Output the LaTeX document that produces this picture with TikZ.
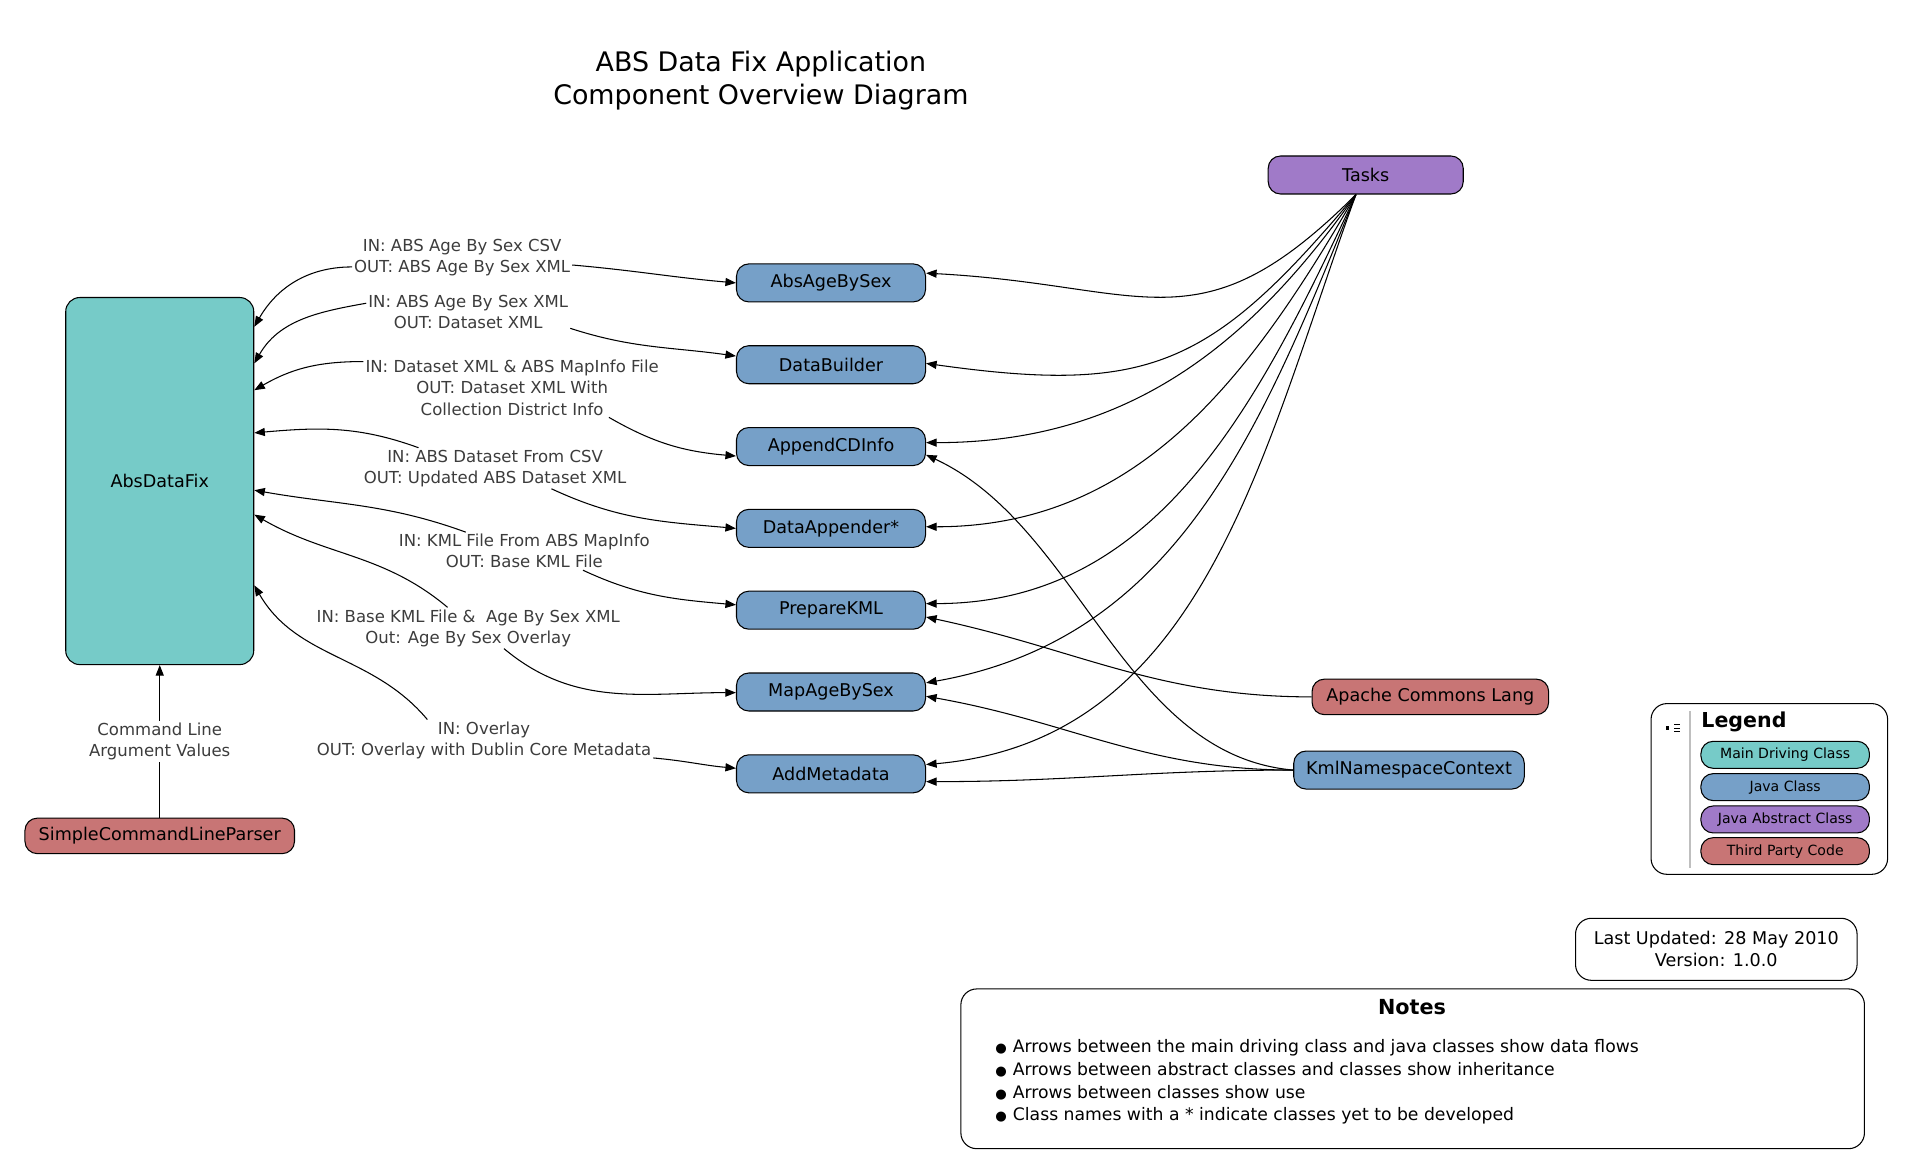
\documentclass[tikz,border=0pt]{standalone}
\usepackage{fontspec}
\setmainfont{DejaVu Sans}
\usepackage{tikz}
\usetikzlibrary{arrows.meta,positioning,calc}
\definecolor{mainTeal}{RGB}{118,203,200}
\definecolor{javaBlue}{RGB}{118,160,200}
\definecolor{abstractPurple}{RGB}{160,122,200}
\definecolor{thirdRed}{RGB}{200,117,117}
\definecolor{labelGray}{RGB}{60,60,60}
\newcommand{\notebullet}{{\fontsize{7.5}{7.5}\selectfont ●}\hspace{0.35em}}
\tikzset{
  basebox/.style={rectangle,draw=black,line width=0.6pt,align=center,font=\fontsize{10}{12}\selectfont},
  mainbox/.style={basebox,fill=mainTeal,rounded corners=8pt,minimum width=3.76cm,minimum height=7.34cm},
  javabox/.style={basebox,fill=javaBlue,rounded corners=7pt,minimum width=3.78cm,minimum height=0.76cm},
  abstractbox/.style={basebox,fill=abstractPurple,rounded corners=7pt,minimum width=3.9cm,minimum height=0.76cm},
  thirdbox/.style={basebox,fill=thirdRed,rounded corners=7pt,minimum height=0.71cm,inner xsep=2pt},
  legitem/.style={basebox,rounded corners=7pt,minimum width=3.37cm,minimum height=0.54cm,inner sep=0pt,font=\fontsize{8}{9}\selectfont},
  infobox/.style={draw=black,line width=0.6pt,rounded corners=9pt},
  flowlbl/.style={align=center,inner sep=1pt,text=labelGray,font=\fontsize{9.4}{12}\selectfont},
  arr/.style={-{Triangle[length=6pt,width=4.6pt]},line width=0.6pt,black}
}

\begin{document}
\begin{tikzpicture}[x=0.024388cm,y=0.024388cm]
  \useasboundingbox (0,0) rectangle (1568,-964);

  %% Title
  \node[align=center,font=\fontsize{15.3}{19.2}\selectfont] (title) at (624,-66)
    {ABS Data Fix Application\\Component Overview Diagram};

  %% Main driving class and its parser
  \node[mainbox] (fix) at (131,-394.5) {AbsDataFix};
  \node[thirdbox,minimum width=5.39cm] (parser) at (131,-685.5) {SimpleCommandLineParser};

  %% Java classes, one column
  \node[javabox] (ageSex) at (681.5,-232) {AbsAgeBySex};
  \node[javabox,below=0.855cm of ageSex] (builder) {DataBuilder};
  \node[javabox,below=0.855cm of builder] (cdInfo) {AppendCDInfo};
  \node[javabox,below=0.855cm of cdInfo] (appender) {DataAppender*};
  \node[javabox,below=0.855cm of appender] (prepKml) {PrepareKML};
  \node[javabox,below=0.855cm of prepKml] (mapAge) {MapAgeBySex};
  \node[javabox,below=0.855cm of mapAge] (addMeta) {AddMetadata};

  %% Abstract and third party classes
  \node[abstractbox] (tasks) at (1120,-143.5) {Tasks};
  \node[thirdbox,minimum width=4.73cm] (apache) at (1173,-571.5) {Apache Commons Lang};
  \node[javabox,minimum width=4.61cm] (kmlNs) at (1155.5,-631.5) {KmlNamespaceContext};

  %% Data flow labels
  \node[flowlbl] (lblAge) at (379,-211) {IN: ABS Age By Sex CSV\\OUT: ABS Age By Sex XML};
  \node[flowlbl] (lblBuild) at (384,-256) {IN: ABS Age By Sex XML\\OUT: Dataset XML};
  \node[flowlbl] (lblCd) at (420,-318) {IN: Dataset XML \& ABS MapInfo File\\OUT: Dataset XML With\\Collection District Info};
  \node[flowlbl] (lblApp) at (406,-384) {IN: ABS Dataset From CSV\\OUT: Updated ABS Dataset XML};
  \node[flowlbl] (lblKml) at (430,-452) {IN: KML File From ABS MapInfo\\OUT: Base KML File};
  \node[flowlbl] (lblMap) at (384,-515) {IN: Base KML File \&\ \ Age By Sex XML\\Out: Age By Sex Overlay};
  \node[flowlbl] (lblMeta) at (397,-607) {IN: Overlay\\OUT: Overlay with Dublin Core Metadata};

  %% Data flows between AbsDataFix and the java classes
  \draw[arr] (lblAge.185) to[out=180,in=60] (fix.east |- 0,-268);
  \draw[arr] (lblAge.-4) to[out=-5,in=175] (ageSex.west);
  \draw[arr] (lblBuild.175) to[out=190,in=60] (fix.east |- 0,-298);
  \draw[arr] (lblBuild.-9) to[out=-18,in=172] (builder.west |- 0,-292);
  \draw[arr] (lblCd.170) to[out=180,in=30] (fix.east |- 0,-320);
  \draw[arr] (lblCd.-17) to[out=-30,in=175] (cdInfo.west |- 0,-374);
  \draw[arr] (lblApp.165) to[out=160,in=5] (fix.east |- 0,-355);
  \draw[arr] (lblApp.-20) to[out=-25,in=175] (appender.west);
  \draw[arr] (lblKml.162) to[out=160,in=-10] (fix.east |- 0,-402);
  \draw[arr] (lblKml.-18) to[out=-25,in=175] (prepKml.west |- 0,-496);
  \draw[arr] (lblMap.135) to[out=140,in=-30] (fix.east |- 0,-422);
  \draw[arr] (lblMap.-30) to[out=-40,in=180] (mapAge.west |- 0,-568);
  \draw[arr] (lblMeta.160) to[out=130,in=-60] (fix.east |- 0,-480);
  \draw[arr] (lblMeta.-6) to[out=-5,in=175] (addMeta.west |- 0,-630);

  %% Command line arguments
  \draw[arr] (parser) -- node[flowlbl,fill=white] (lblCmd) {Command Line\\Argument Values} (fix);

  %% Inheritance from Tasks
  \coordinate (taskFoot) at ($(tasks.south)+(-8,0)$);
  \draw[arr] (taskFoot) to[out=-135,in=-3,looseness=1.3] (ageSex.east |- 0,-224);
  \draw[arr] (taskFoot) to[out=-130,in=-8,looseness=1.25] (builder.east |- 0,-298);
  \draw[arr] (taskFoot) to[out=-125,in=0] (cdInfo.east |- 0,-363);
  \draw[arr] (taskFoot) to[out=-120,in=0] (appender.east |- 0,-432);
  \draw[arr] (taskFoot) to[out=-115,in=0] (prepKml.east |- 0,-495);
  \draw[arr] (taskFoot) to[out=-112,in=10] (mapAge.east |- 0,-560);
  \draw[arr] (taskFoot) to[out=-110,in=5] (addMeta.east |- 0,-627);

  %% Use of helper classes
  \draw[arr] (kmlNs.west) to[out=175,in=-25,looseness=0.9] (cdInfo.east |- 0,-373);
  \draw[arr] (kmlNs.west) to[out=180,in=-10] (mapAge.east |- 0,-571);
  \draw[arr] (kmlNs.west) to[out=180,in=0] (addMeta.east |- 0,-641);
  \draw[arr] (apache.west) to[out=180,in=-12] (prepKml.east |- 0,-506);

  %% Legend
  \draw[infobox] (1354,-577) rectangle (1548,-717);
  \draw[gray!50,line width=0.8pt] (1386,-583) -- (1386,-712);
  \fill (1366,-595.5) rectangle (1369,-598.5);
  \draw[line width=0.5pt] (1373,-594) -- (1378,-594) (1373,-597) -- (1378,-597) (1373,-600) -- (1378,-600);
  \node[anchor=west,inner sep=0pt,font=\bfseries\fontsize{11.7}{14}\selectfont] (legTitle) at (1395,-592) {Legend};
  \node[legitem,fill=mainTeal] (legMain) at (1464,-619) {Main Driving Class};
  \node[legitem,fill=javaBlue] (legJava) at (1464,-645.5) {Java Class};
  \node[legitem,fill=abstractPurple] (legAbs) at (1464,-672) {Java Abstract Class};
  \node[legitem,fill=thirdRed] (legThird) at (1464,-698) {Third Party Code};

  %% Version box
  \node[infobox,minimum width=5.63cm,minimum height=1.24cm,align=center,
        font=\fontsize{10}{12.4}\selectfont] (version) at (1407.5,-778.5)
    {Last Updated: 28 May 2010\\Version: 1.0.0};

  %% Notes
  \draw[infobox] (788,-811) rectangle (1529,-942);
  \node[font=\bfseries\fontsize{11.8}{14}\selectfont] (notesTitle) at (1158,-826) {Notes};
  \node[anchor=north west,align=left,inner sep=0pt,font=\fontsize{9.8}{13}\selectfont] (notesText) at (816,-852)
    {\notebullet Arrows between the main driving class and java classes show data flows\\
     \notebullet Arrows between abstract classes and classes show inheritance\\
     \notebullet Arrows between classes show use\\
     \notebullet Class names with a * indicate classes yet to be developed};
\end{tikzpicture}
\end{document}
